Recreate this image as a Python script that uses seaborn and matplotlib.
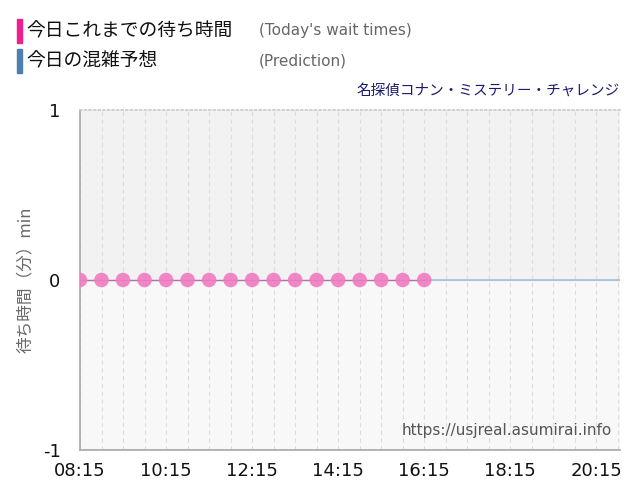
import matplotlib
matplotlib.use("Agg")
import matplotlib.pyplot as plt
import seaborn as sns
import pandas as pd

sns.set_theme(style="white")
plt.rcParams['font.family'] = ['Noto Sans CJK JP', 'DejaVu Sans']

times = ["08:15","08:45","09:15","09:45","10:15","10:45","11:15","11:45","12:15",
         "12:45","13:15","13:45","14:15","14:45","15:15","15:45","16:15"]
waits = [0]*17
pred_times = ["16:15", "20:48"]
pred_vals = [0, 0]
tick_labels = ["08:15","10:15","12:15","14:15","16:15","18:15","20:15"]

def to_min(t):
    h, m = t.split(":")
    return int(h)*60 + int(m) - (8*60+15)

df = pd.DataFrame({"t": [to_min(t) for t in times], "w": waits})
dp = pd.DataFrame({"t": [to_min(t) for t in pred_times], "w": pred_vals})

fig = plt.figure(figsize=(6.4, 5.0), dpi=100)
ax = fig.add_axes([80/640, 50/500, 540/640, 340/500])
xmax = to_min("20:48")
ax.set_xlim(0, xmax)
ax.set_ylim(-1, 1)
ax.axhspan(0, 1, color="#f2f2f2", zorder=0)
ax.axhspan(-1, 0, color="#f8f8f8", zorder=0)
for x in range(0, xmax, 30):
    ax.axvline(x, color="#dddddd", lw=0.8, ls=(0, (4, 3)), zorder=1)
ax.axhline(0, color="#cccccc", lw=0.8, zorder=1)
sns.lineplot(data=dp, x="t", y="w", ax=ax, color="#9fc3dc", lw=1.2, zorder=2)
sns.lineplot(data=df, x="t", y="w", ax=ax, color="#b070b0", lw=1, zorder=3)
sns.scatterplot(data=df, x="t", y="w", ax=ax, color="#f07cc0", s=110,
                edgecolor="none", alpha=0.9, zorder=4)
ax.set_xticks([to_min(t) for t in tick_labels])
ax.set_xticklabels(tick_labels, fontsize=13, family=['DejaVu Sans'])
ax.set_yticks([-1, 0, 1])
ax.set_yticklabels(["-1", "0", "1"], fontsize=13, family=['DejaVu Sans'])
ax.tick_params(axis="y", length=0, pad=14, colors="#111111")
ax.tick_params(axis="x", length=0, pad=9, colors="#111111")
ax.set_xlabel("")
ax.set_ylabel("待ち時間（分）min", fontsize=12, color="#666666", labelpad=6)
for s in ["right"]:
    ax.spines[s].set_visible(False)
ax.spines["left"].set_color("#aaaaaa")
ax.spines["bottom"].set_color("#aaaaaa")
ax.spines["top"].set_color("#cccccc")
ax.spines["top"].set_linestyle(":")
ax.text(0.985, 0.035, "https://usjreal.asumirai.info", transform=ax.transAxes,
        ha="right", va="bottom", fontsize=11, color="#555555", family=['DejaVu Sans'])

fig.patches.append(plt.Rectangle((17/640, 1-43/500), 5/640, 24/500, color="#ee1f8f", transform=fig.transFigure))
fig.patches.append(plt.Rectangle((17/640, 1-73/500), 5/640, 24/500, color="#4a7fb0", transform=fig.transFigure))
fig.text(26/640, 1-31/500, "今日これまでの待ち時間", fontsize=13.5, va="center", color="#111111")
fig.text(26/640, 1-61/500, "今日の混雑予想", fontsize=13.5, va="center", color="#111111")
fig.text(259/640, 1-31/500, "(Today's wait times)", fontsize=11, va="center", color="#666666", family=['DejaVu Sans'])
fig.text(259/640, 1-61/500, "(Prediction)", fontsize=11, va="center", color="#666666", family=['DejaVu Sans'])
fig.text(620/640, 1-91/500, "名探偵コナン・ミステリー・チャレンジ", fontsize=10.5, ha="right", va="center", color="#1a1a6e")
fig.savefig("out.png", dpi=100)
